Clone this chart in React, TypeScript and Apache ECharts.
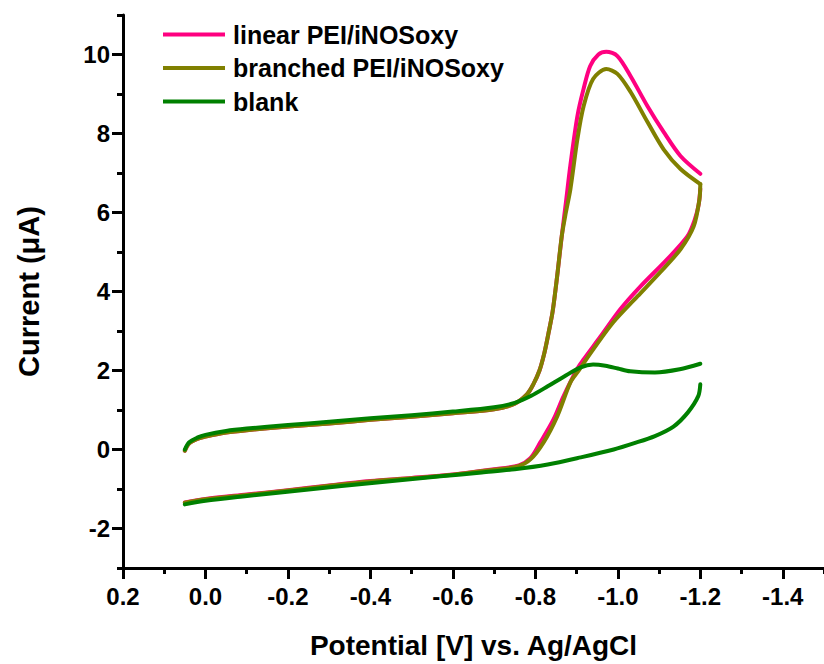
import React, { useEffect, useRef } from "react";
import * as echarts from "echarts";

// linear PEI/iNOSoxy (pink)
const linearUpX = [0.05, 0.04, 0.02, 0.0, -0.05, -0.1, -0.2, -0.3, -0.4, -0.5, -0.6, -0.7, -0.75, -0.78, -0.795, -0.81, -0.822, -0.832, -0.842, -0.853, -0.864, -0.874, -0.885, -0.902, -0.917, -0.933, -0.953, -0.972, -0.999, -1.031, -1.072, -1.111, -1.152, -1.2];
const linearUpY = [-0.03, 0.15, 0.27, 0.33, 0.43, 0.49, 0.58, 0.66, 0.75, 0.83, 0.92, 1.02, 1.16, 1.4, 1.65, 2.0, 2.45, 2.95, 3.5, 4.4, 5.4, 6.25, 7.2, 8.44, 9.13, 9.71, 10.0, 10.07, 9.96, 9.45, 8.69, 8.04, 7.43, 6.98];
const linearDownX = [-1.2, -1.196, -1.186, -1.169, -1.12, -1.055, -1.006, -0.958, -0.917, -0.902, -0.868, -0.844, -0.812, -0.788, -0.76, -0.7, -0.6, -0.5, -0.4, -0.3, -0.2, -0.1, 0.0, 0.05];
const linearDownY = [6.6, 6.2, 5.8, 5.4, 4.82, 4.13, 3.55, 2.86, 2.28, 2.05, 1.34, 0.76, 0.18, -0.22, -0.4, -0.5, -0.63, -0.72, -0.8, -0.91, -1.03, -1.14, -1.25, -1.34];

// branched PEI/iNOSoxy (olive)
const branchedUpX = [0.05, 0.04, 0.02, 0.0, -0.05, -0.1, -0.2, -0.3, -0.4, -0.5, -0.6, -0.7, -0.75, -0.78, -0.795, -0.81, -0.822, -0.832, -0.842, -0.853, -0.864, -0.874, -0.885, -0.902, -0.917, -0.94, -0.972, -0.999, -1.031, -1.072, -1.111, -1.152, -1.2];
const branchedUpY = [-0.03, 0.15, 0.27, 0.33, 0.43, 0.49, 0.58, 0.66, 0.75, 0.83, 0.92, 1.02, 1.16, 1.4, 1.65, 2.0, 2.45, 2.95, 3.5, 4.4, 5.4, 6.0, 6.59, 7.86, 8.69, 9.38, 9.63, 9.51, 9.05, 8.29, 7.6, 7.1, 6.72];
const branchedDownX = [-1.2, -1.198, -1.184, -1.152, -1.103, -1.048, -0.989, -0.94, -0.905, -0.885, -0.853, -0.82, -0.788, -0.757, -0.7, -0.6, -0.5, -0.4, -0.3, -0.2, -0.1, 0.0, 0.05];
const branchedDownY = [6.72, 6.34, 5.65, 5.07, 4.49, 3.88, 3.22, 2.53, 2.0, 1.7, 0.84, 0.18, -0.25, -0.43, -0.51, -0.64, -0.73, -0.81, -0.92, -1.04, -1.15, -1.26, -1.35];

// blank (green)
const blankUpX = [0.05, 0.04, 0.02, 0.0, -0.05, -0.1, -0.2, -0.3, -0.4, -0.5, -0.6, -0.7, -0.75, -0.79, -0.83, -0.87, -0.91, -0.94, -0.97, -1.0, -1.03, -1.09, -1.15, -1.2];
const blankUpY = [0.0, 0.18, 0.3, 0.37, 0.47, 0.53, 0.62, 0.7, 0.79, 0.87, 0.96, 1.07, 1.18, 1.36, 1.6, 1.85, 2.08, 2.15, 2.12, 2.05, 1.98, 1.95, 2.03, 2.17];
const blankDownX = [-1.2, -1.195, -1.17, -1.135, -1.09, -1.04, -0.99, -0.91, -0.83, -0.75, -0.67, -0.57, -0.41, -0.25, -0.09, 0.0, 0.05];
const blankDownY = [1.65, 1.35, 0.94, 0.58, 0.34, 0.16, 0.0, -0.2, -0.38, -0.5, -0.58, -0.68, -0.84, -1.01, -1.19, -1.3, -1.39];

const seriesNames = ["linear PEI/iNOSoxy", "branched PEI/iNOSoxy", "blank"];
const seriesColors = ["#FF0080", "#808000", "#008000"];

// axis ranges / tick steps
const xMin = -1.5;
const xMax = 0.2;
const xMinorStep = 0.1;
const xMajorStep = 0.2;
const yMin = -3;
const yMax = 11;
const yMinorStep = 1;
const yMajorStep = 2;

const FONT = '"Liberation Sans", Arial, Helvetica, sans-serif';

const zip = (xs: number[], ys: number[]) => xs.map((x, i) => [x, ys[i]]);

export default function App() {
  const ref = useRef<HTMLDivElement>(null);

  useEffect(() => {
    if (!ref.current) return;
    const chart = echarts.init(ref.current, undefined, { renderer: "svg" });

    const W = 824;
    const H = 664;
    const gLeft = 123;
    const gRight = 0;
    const gTop = 15;
    const gBottom = 96;
    const pxPerX = (W - gLeft - gRight) / (xMax - xMin);
    const pxPerY = (H - gTop - gBottom) / (yMax - yMin);

    const mk = (idx: number, xs: number[], ys: number[]) => ({
      name: seriesNames[idx],
      type: "line",
      data: zip(xs, ys),
      xAxisIndex: 0,
      yAxisIndex: 0,
      smooth: 0.3,
      symbol: "none",
      showSymbol: false,
      color: seriesColors[idx],
      lineStyle: { color: seriesColors[idx], width: 4, cap: "round", join: "round" },
      itemStyle: { color: seriesColors[idx] },
      z: 2 + idx,
    });

    const tickLine = { color: "#000", width: 3 };
    const labelStyle = { color: "#000", fontFamily: FONT, fontWeight: "bold", fontSize: 24 };
    const nameStyle = { color: "#000", fontFamily: FONT, fontWeight: "bold", fontSize: 28 };

    const isMajor = (v: number, minor: number, major: number) => {
      const k = Math.round(v / minor);
      const r = Math.round(major / minor);
      return ((k % r) + r) % r === 0;
    };

    chart.setOption({
      animation: false,
      backgroundColor: "#fff",
      grid: [
        { left: gLeft, right: gRight, top: gTop, bottom: gBottom, containLabel: false, outerBoundsMode: "none" },
        // grid for long x ticks: extent extended by one minor step past the right edge so ticks fall on even tenths
        { left: gLeft, right: gRight - xMinorStep * pxPerX, top: gTop, bottom: gBottom, containLabel: false, outerBoundsMode: "none" },
        // grid for long y ticks: range -2..12 (top off-canvas) so ticks fall on even values
        { left: gLeft, right: gRight, top: gTop - yMinorStep * pxPerY, bottom: gBottom + yMinorStep * pxPerY, containLabel: false, outerBoundsMode: "none" },
      ],
      legend: {
        data: seriesNames,
        orient: "vertical",
        left: 163,
        top: 22,
        padding: 0,
        icon: "rect",
        itemWidth: 62,
        itemHeight: 4,
        itemGap: 8.5,
        textStyle: { color: "#000", fontFamily: FONT, fontWeight: "bold", fontSize: 25, lineHeight: 25, padding: [0, 0, 0, 3] },
      },
      xAxis: [
        {
          gridIndex: 0,
          type: "value",
          min: xMin,
          max: xMax,
          interval: xMinorStep,
          inverse: true,
          position: "bottom",
          name: "Potential [V] vs. Ag/AgCl",
          nameLocation: "middle",
          nameGap: 63,
          nameTextStyle: nameStyle,
          axisLine: { show: true, onZero: false, lineStyle: { color: "#000", width: 3 } },
          splitLine: { show: false },
          axisTick: { show: true, length: 6, lineStyle: tickLine },
          axisLabel: {
            ...labelStyle,
            interval: 0,
            margin: 16,
            formatter: (v: number) => {
              if (!isMajor(v, xMinorStep, xMajorStep)) return "";
              if (Math.abs(v) < 1e-9) return "0.0";
              return Number(v).toFixed(1);
            },
          },
        },
        {
          gridIndex: 1,
          type: "value",
          min: xMin - xMinorStep,
          max: xMax,
          interval: xMajorStep,
          inverse: true,
          position: "bottom",
          axisLine: { show: false, onZero: false },
          splitLine: { show: false },
          axisTick: { show: true, length: 11, lineStyle: tickLine },
          axisLabel: { show: false },
        },
        { gridIndex: 2, type: "value", min: xMin, max: xMax, show: false, axisLine: { onZero: false } },
      ],
      yAxis: [
        {
          gridIndex: 0,
          type: "value",
          min: yMin,
          max: yMax,
          interval: yMinorStep,
          position: "left",
          name: "Current (\u03BCA)",
          nameLocation: "middle",
          nameGap: 80,
          nameRotate: 90,
          nameTextStyle: { ...nameStyle, fontSize: 29 },
          axisLine: { show: true, onZero: false, lineStyle: { color: "#000", width: 3 } },
          splitLine: { show: false },
          axisTick: { show: true, length: 6, lineStyle: tickLine },
          axisLabel: {
            ...labelStyle,
            interval: 0,
            margin: 13,
            formatter: (v: number) => (isMajor(v, yMinorStep, yMajorStep) ? String(Math.round(v)) : ""),
          },
        },
        { gridIndex: 1, type: "value", min: yMin, max: yMax, show: false, axisLine: { onZero: false } },
        {
          gridIndex: 2,
          type: "value",
          min: yMin + yMinorStep,
          max: yMax + yMinorStep,
          interval: yMajorStep,
          position: "left",
          axisLine: { show: false, onZero: false },
          splitLine: { show: false },
          axisTick: { show: true, length: 11, lineStyle: tickLine },
          axisLabel: { show: false },
        },
      ],
      series: [
        mk(0, linearUpX, linearUpY),
        mk(0, linearDownX, linearDownY),
        mk(1, branchedUpX, branchedUpY),
        mk(1, branchedDownX, branchedDownY),
        mk(2, blankUpX, blankUpY),
        mk(2, blankDownX, blankDownY),
      ],
    });

    return () => chart.dispose();
  }, []);

  return (
    <div
      ref={ref}
      style={{ position: "absolute", left: 0, top: 0, width: 824, height: 664, background: "#fff" }}
    />
  );
}
